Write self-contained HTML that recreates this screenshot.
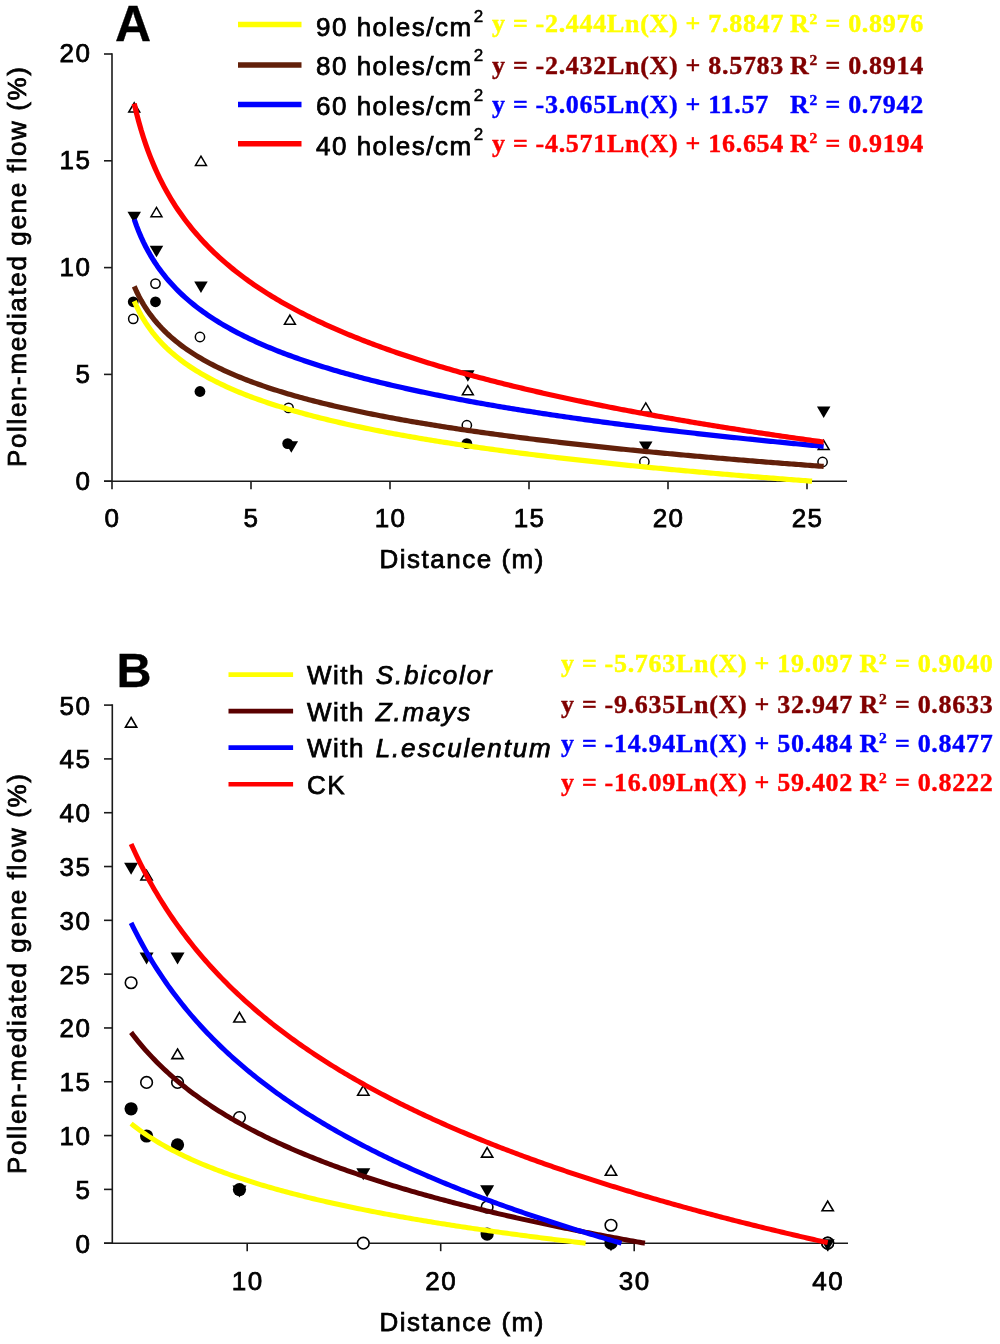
<!DOCTYPE html><html><head><meta charset="utf-8"><title>Pollen-mediated gene flow</title><style>html,body{margin:0;padding:0;background:#fff;} svg{display:block;will-change:transform} text{font-family:'Liberation Sans',sans-serif;font-size:26px;letter-spacing:1.5px;fill:#000;stroke:#000;stroke-width:0.75px} .e{font-family:'Liberation Serif',serif;font-weight:bold;font-size:26px;letter-spacing:0.7px;stroke-width:0.4px} .i{font-style:italic;letter-spacing:1.85px} .lab{font-weight:bold;font-size:50px;letter-spacing:0;stroke-width:0.3px} .sup{font-size:17px;letter-spacing:0;stroke-width:0.5px}</style></head><body>
<svg width="1000" height="1344" viewBox="0 0 1000 1344">
<rect width="1000" height="1344" fill="#fff"/>
<g stroke="#1a1a1a" stroke-width="1.6" fill="none">
<line x1="112.0" y1="53.2" x2="112.0" y2="482.0"/>
<line x1="104" y1="481.2" x2="847" y2="481.2"/>
<line x1="104" y1="481.20" x2="112.0" y2="481.20"/>
<line x1="104" y1="374.40" x2="112.0" y2="374.40"/>
<line x1="104" y1="267.60" x2="112.0" y2="267.60"/>
<line x1="104" y1="160.80" x2="112.0" y2="160.80"/>
<line x1="104" y1="54.00" x2="112.0" y2="54.00"/>
<line x1="112.00" y1="481.2" x2="112.00" y2="489.2"/>
<line x1="251.00" y1="481.2" x2="251.00" y2="489.2"/>
<line x1="390.00" y1="481.2" x2="390.00" y2="489.2"/>
<line x1="529.00" y1="481.2" x2="529.00" y2="489.2"/>
<line x1="668.00" y1="481.2" x2="668.00" y2="489.2"/>
<line x1="807.00" y1="481.2" x2="807.00" y2="489.2"/>
</g>
<text x="91.5" y="489.6" text-anchor="end">0</text>
<text x="91.5" y="382.8" text-anchor="end">5</text>
<text x="91.5" y="276.0" text-anchor="end">10</text>
<text x="91.5" y="169.2" text-anchor="end">15</text>
<text x="91.5" y="62.4" text-anchor="end">20</text>
<text x="112.6" y="526.5" text-anchor="middle">0</text>
<text x="251.6" y="526.5" text-anchor="middle">5</text>
<text x="390.6" y="526.5" text-anchor="middle">10</text>
<text x="529.6" y="526.5" text-anchor="middle">15</text>
<text x="668.6" y="526.5" text-anchor="middle">20</text>
<text x="807.6" y="526.5" text-anchor="middle">25</text>
<text x="379.5" y="568">Distance (m)</text>
<text transform="translate(26,467) rotate(-90)" style="letter-spacing:1.64px">Pollen-mediated gene flow (%)</text>
<text class="lab" x="115.0" y="41.4">A</text>
<circle cx="133.24" cy="301.78" r="5.4" fill="#000"/>
<circle cx="155.48" cy="301.78" r="5.4" fill="#000"/>
<circle cx="199.96" cy="391.49" r="5.4" fill="#000"/>
<circle cx="287.70" cy="443.61" r="5.4" fill="#000"/>
<circle cx="466.84" cy="443.61" r="5.4" fill="#000"/>
<circle cx="133.24" cy="318.86" r="4.65" fill="#fff" stroke="#000" stroke-width="1.5"/>
<circle cx="155.48" cy="283.62" r="4.65" fill="#fff" stroke="#000" stroke-width="1.5"/>
<circle cx="199.96" cy="337.02" r="4.65" fill="#fff" stroke="#000" stroke-width="1.5"/>
<circle cx="288.53" cy="407.94" r="4.65" fill="#fff" stroke="#000" stroke-width="1.5"/>
<circle cx="466.84" cy="425.24" r="4.65" fill="#fff" stroke="#000" stroke-width="1.5"/>
<circle cx="644.37" cy="461.76" r="4.65" fill="#fff" stroke="#000" stroke-width="1.5"/>
<circle cx="822.57" cy="461.98" r="4.65" fill="#fff" stroke="#000" stroke-width="1.5"/>
<path d="M127.49,211.65 L140.99,211.65 L134.24,223.15 Z" fill="#000"/>
<path d="M149.73,245.83 L163.23,245.83 L156.48,257.33 Z" fill="#000"/>
<path d="M194.21,281.50 L207.71,281.50 L200.96,293.00 Z" fill="#000"/>
<path d="M284.56,441.27 L298.06,441.27 L291.31,452.77 Z" fill="#000"/>
<path d="M461.09,370.36 L474.59,370.36 L467.84,381.86 Z" fill="#000"/>
<path d="M639.01,441.49 L652.51,441.49 L645.76,452.99 Z" fill="#000"/>
<path d="M816.93,406.46 L830.43,406.46 L823.68,417.96 Z" fill="#000"/>
<path d="M134.24,102.77 L139.72,112.02 L128.77,112.02 Z" fill="#fff" stroke="#000" stroke-width="1.5"/>
<path d="M156.48,207.44 L161.96,216.69 L151.01,216.69 Z" fill="#fff" stroke="#000" stroke-width="1.5"/>
<path d="M200.96,156.18 L206.44,165.43 L195.49,165.43 Z" fill="#fff" stroke="#000" stroke-width="1.5"/>
<path d="M289.92,315.09 L295.40,324.34 L284.44,324.34 Z" fill="#fff" stroke="#000" stroke-width="1.5"/>
<path d="M467.84,385.58 L473.32,394.83 L462.37,394.83 Z" fill="#fff" stroke="#000" stroke-width="1.5"/>
<path d="M645.76,402.88 L651.24,412.13 L640.28,412.13 Z" fill="#fff" stroke="#000" stroke-width="1.5"/>
<path d="M823.68,440.26 L829.16,449.51 L818.21,449.51 Z" fill="#fff" stroke="#000" stroke-width="1.5"/>
<path d="M134.24,301.13 L136.54,306.27 L138.84,310.94 L141.13,315.23 L143.43,319.19 L145.73,322.88 L148.03,326.32 L150.33,329.55 L152.63,332.59 L154.92,335.46 L157.22,338.18 L159.52,340.77 L161.82,343.23 L164.12,345.59 L166.41,347.84 L168.71,350.00 L171.01,352.08 L173.31,354.07 L175.61,355.99 L177.90,357.84 L180.20,359.63 L182.50,361.36 L184.80,363.04 L187.10,364.66 L189.40,366.23 L191.69,367.76 L193.99,369.25 L196.29,370.69 L198.59,372.09 L200.89,373.46 L203.18,374.79 L205.48,376.09 L207.78,377.36 L210.08,378.60 L212.38,379.81 L214.67,380.99 L216.97,382.14 L219.27,383.27 L221.57,384.38 L223.87,385.46 L226.17,386.53 L228.46,387.57 L230.76,388.59 L233.06,389.59 L235.36,390.57 L237.66,391.53 L239.95,392.48 L242.25,393.41 L244.55,394.32 L246.85,395.22 L249.15,396.10 L251.44,396.97 L253.74,397.82 L256.04,398.66 L258.34,399.49 L260.64,400.30 L262.94,401.10 L265.23,401.89 L267.53,402.67 L269.83,403.43 L272.13,404.19 L274.43,404.93 L276.72,405.67 L279.02,406.39 L281.32,407.10 L283.62,407.81 L285.92,408.50 L288.21,409.19 L290.51,409.86 L292.81,410.53 L295.11,411.19 L297.41,411.84 L299.71,412.48 L302.00,413.12 L304.30,413.75 L306.60,414.37 L308.90,414.98 L311.20,415.59 L313.49,416.18 L315.79,416.78 L318.09,417.36 L320.39,417.94 L322.69,418.51 L324.99,419.08 L327.28,419.64 L329.58,420.19 L331.88,420.74 L334.18,421.29 L336.48,421.82 L338.77,422.35 L341.07,422.88 L343.37,423.40 L345.67,423.92 L347.97,424.43 L350.26,424.93 L352.56,425.44 L354.86,425.93 L357.16,426.42 L359.46,426.91 L361.76,427.39 L364.05,427.87 L366.35,428.35 L368.65,428.82 L370.95,429.28 L373.25,429.74 L375.54,430.20 L377.84,430.65 L380.14,431.10 L382.44,431.55 L384.74,431.99 L387.03,432.43 L389.33,432.86 L391.63,433.29 L393.93,433.72 L396.23,434.14 L398.53,434.56 L400.82,434.98 L403.12,435.39 L405.42,435.80 L407.72,436.21 L410.02,436.62 L412.31,437.02 L414.61,437.42 L416.91,437.81 L419.21,438.20 L421.51,438.59 L423.80,438.98 L426.10,439.36 L428.40,439.74 L430.70,440.12 L433.00,440.49 L435.30,440.87 L437.59,441.24 L439.89,441.60 L442.19,441.97 L444.49,442.33 L446.79,442.69 L449.08,443.05 L451.38,443.40 L453.68,443.75 L455.98,444.10 L458.28,444.45 L460.57,444.80 L462.87,445.14 L465.17,445.48 L467.47,445.82 L469.77,446.16 L472.07,446.49 L474.36,446.82 L476.66,447.15 L478.96,447.48 L481.26,447.81 L483.56,448.13 L485.85,448.45 L488.15,448.77 L490.45,449.09 L492.75,449.41 L495.05,449.72 L497.35,450.03 L499.64,450.34 L501.94,450.65 L504.24,450.96 L506.54,451.26 L508.84,451.57 L511.13,451.87 L513.43,452.17 L515.73,452.47 L518.03,452.76 L520.33,453.06 L522.62,453.35 L524.92,453.64 L527.22,453.93 L529.52,454.22 L531.82,454.50 L534.12,454.79 L536.41,455.07 L538.71,455.36 L541.01,455.64 L543.31,455.91 L545.61,456.19 L547.90,456.47 L550.20,456.74 L552.50,457.02 L554.80,457.29 L557.10,457.56 L559.39,457.83 L561.69,458.09 L563.99,458.36 L566.29,458.62 L568.59,458.89 L570.89,459.15 L573.18,459.41 L575.48,459.67 L577.78,459.93 L580.08,460.19 L582.38,460.44 L584.67,460.70 L586.97,460.95 L589.27,461.20 L591.57,461.45 L593.87,461.70 L596.16,461.95 L598.46,462.20 L600.76,462.44 L603.06,462.69 L605.36,462.93 L607.66,463.17 L609.95,463.42 L612.25,463.66 L614.55,463.90 L616.85,464.13 L619.15,464.37 L621.44,464.61 L623.74,464.84 L626.04,465.08 L628.34,465.31 L630.64,465.54 L632.93,465.77 L635.23,466.00 L637.53,466.23 L639.83,466.46 L642.13,466.68 L644.43,466.91 L646.72,467.13 L649.02,467.36 L651.32,467.58 L653.62,467.80 L655.92,468.02 L658.21,468.24 L660.51,468.46 L662.81,468.68 L665.11,468.90 L667.41,469.12 L669.71,469.33 L672.00,469.55 L674.30,469.76 L676.60,469.97 L678.90,470.18 L681.20,470.40 L683.49,470.61 L685.79,470.82 L688.09,471.02 L690.39,471.23 L692.69,471.44 L694.98,471.65 L697.28,471.85 L699.58,472.06 L701.88,472.26 L704.18,472.46 L706.48,472.66 L708.77,472.87 L711.07,473.07 L713.37,473.27 L715.67,473.47 L717.97,473.66 L720.26,473.86 L722.56,474.06 L724.86,474.25 L727.16,474.45 L729.46,474.64 L731.75,474.84 L734.05,475.03 L736.35,475.22 L738.65,475.42 L740.95,475.61 L743.25,475.80 L745.54,475.99 L747.84,476.18 L750.14,476.36 L752.44,476.55 L754.74,476.74 L757.03,476.93 L759.33,477.11 L761.63,477.30 L763.93,477.48 L766.23,477.66 L768.52,477.85 L770.82,478.03 L773.12,478.21 L775.42,478.39 L777.72,478.57 L780.02,478.75 L782.31,478.93 L784.61,479.11 L786.91,479.29 L789.21,479.47 L791.51,479.64 L793.80,479.82 L796.10,480.00 L798.40,480.17 L800.70,480.35 L803.00,480.52 L805.29,480.69 L807.59,480.87 L809.89,481.04 L812.07,481.20" fill="none" stroke="#ffff00" stroke-width="5.2" stroke-linejoin="round"/>
<path d="M134.24,286.38 L136.54,291.48 L138.84,296.13 L141.13,300.40 L143.43,304.35 L145.73,308.01 L148.03,311.44 L150.33,314.65 L152.63,317.67 L154.92,320.53 L157.22,323.24 L159.52,325.82 L161.82,328.27 L164.12,330.61 L166.41,332.85 L168.71,335.00 L171.01,337.07 L173.31,339.05 L175.61,340.96 L177.90,342.81 L180.20,344.59 L182.50,346.31 L184.80,347.98 L187.10,349.59 L189.40,351.16 L191.69,352.68 L193.99,354.15 L196.29,355.59 L198.59,356.99 L200.89,358.35 L203.18,359.67 L205.48,360.97 L207.78,362.23 L210.08,363.46 L212.38,364.66 L214.67,365.84 L216.97,366.99 L219.27,368.11 L221.57,369.21 L223.87,370.29 L226.17,371.35 L228.46,372.38 L230.76,373.40 L233.06,374.40 L235.36,375.37 L237.66,376.33 L239.95,377.27 L242.25,378.20 L244.55,379.11 L246.85,380.00 L249.15,380.88 L251.44,381.74 L253.74,382.59 L256.04,383.42 L258.34,384.25 L260.64,385.06 L262.94,385.85 L265.23,386.64 L267.53,387.41 L269.83,388.17 L272.13,388.92 L274.43,389.66 L276.72,390.39 L279.02,391.11 L281.32,391.82 L283.62,392.52 L285.92,393.22 L288.21,393.90 L290.51,394.57 L292.81,395.23 L295.11,395.89 L297.41,396.54 L299.71,397.18 L302.00,397.81 L304.30,398.44 L306.60,399.05 L308.90,399.66 L311.20,400.27 L313.49,400.86 L315.79,401.45 L318.09,402.03 L320.39,402.61 L322.69,403.18 L324.99,403.74 L327.28,404.30 L329.58,404.85 L331.88,405.40 L334.18,405.94 L336.48,406.47 L338.77,407.00 L341.07,407.52 L343.37,408.04 L345.67,408.56 L347.97,409.07 L350.26,409.57 L352.56,410.07 L354.86,410.56 L357.16,411.05 L359.46,411.54 L361.76,412.02 L364.05,412.49 L366.35,412.96 L368.65,413.43 L370.95,413.89 L373.25,414.35 L375.54,414.81 L377.84,415.26 L380.14,415.71 L382.44,416.15 L384.74,416.59 L387.03,417.02 L389.33,417.46 L391.63,417.88 L393.93,418.31 L396.23,418.73 L398.53,419.15 L400.82,419.57 L403.12,419.98 L405.42,420.39 L407.72,420.79 L410.02,421.19 L412.31,421.59 L414.61,421.99 L416.91,422.38 L419.21,422.77 L421.51,423.16 L423.80,423.54 L426.10,423.92 L428.40,424.30 L430.70,424.68 L433.00,425.05 L435.30,425.42 L437.59,425.79 L439.89,426.16 L442.19,426.52 L444.49,426.88 L446.79,427.24 L449.08,427.59 L451.38,427.94 L453.68,428.30 L455.98,428.64 L458.28,428.99 L460.57,429.33 L462.87,429.67 L465.17,430.01 L467.47,430.35 L469.77,430.69 L472.07,431.02 L474.36,431.35 L476.66,431.68 L478.96,432.00 L481.26,432.33 L483.56,432.65 L485.85,432.97 L488.15,433.29 L490.45,433.61 L492.75,433.92 L495.05,434.23 L497.35,434.54 L499.64,434.85 L501.94,435.16 L504.24,435.46 L506.54,435.77 L508.84,436.07 L511.13,436.37 L513.43,436.67 L515.73,436.96 L518.03,437.26 L520.33,437.55 L522.62,437.84 L524.92,438.13 L527.22,438.42 L529.52,438.71 L531.82,438.99 L534.12,439.28 L536.41,439.56 L538.71,439.84 L541.01,440.12 L543.31,440.40 L545.61,440.67 L547.90,440.95 L550.20,441.22 L552.50,441.49 L554.80,441.76 L557.10,442.03 L559.39,442.30 L561.69,442.56 L563.99,442.83 L566.29,443.09 L568.59,443.36 L570.89,443.62 L573.18,443.88 L575.48,444.13 L577.78,444.39 L580.08,444.65 L582.38,444.90 L584.67,445.15 L586.97,445.41 L589.27,445.66 L591.57,445.91 L593.87,446.15 L596.16,446.40 L598.46,446.65 L600.76,446.89 L603.06,447.14 L605.36,447.38 L607.66,447.62 L609.95,447.86 L612.25,448.10 L614.55,448.34 L616.85,448.57 L619.15,448.81 L621.44,449.05 L623.74,449.28 L626.04,449.51 L628.34,449.74 L630.64,449.97 L632.93,450.20 L635.23,450.43 L637.53,450.66 L639.83,450.89 L642.13,451.11 L644.43,451.34 L646.72,451.56 L649.02,451.78 L651.32,452.01 L653.62,452.23 L655.92,452.45 L658.21,452.67 L660.51,452.88 L662.81,453.10 L665.11,453.32 L667.41,453.53 L669.71,453.75 L672.00,453.96 L674.30,454.17 L676.60,454.39 L678.90,454.60 L681.20,454.81 L683.49,455.02 L685.79,455.22 L688.09,455.43 L690.39,455.64 L692.69,455.85 L694.98,456.05 L697.28,456.25 L699.58,456.46 L701.88,456.66 L704.18,456.86 L706.48,457.06 L708.77,457.26 L711.07,457.46 L713.37,457.66 L715.67,457.86 L717.97,458.06 L720.26,458.26 L722.56,458.45 L724.86,458.65 L727.16,458.84 L729.46,459.03 L731.75,459.23 L734.05,459.42 L736.35,459.61 L738.65,459.80 L740.95,459.99 L743.25,460.18 L745.54,460.37 L747.84,460.56 L750.14,460.75 L752.44,460.93 L754.74,461.12 L757.03,461.30 L759.33,461.49 L761.63,461.67 L763.93,461.86 L766.23,462.04 L768.52,462.22 L770.82,462.40 L773.12,462.58 L775.42,462.76 L777.72,462.94 L780.02,463.12 L782.31,463.30 L784.61,463.48 L786.91,463.66 L789.21,463.83 L791.51,464.01 L793.80,464.18 L796.10,464.36 L798.40,464.53 L800.70,464.71 L803.00,464.88 L805.29,465.05 L807.59,465.22 L809.89,465.40 L812.19,465.57 L814.49,465.74 L816.79,465.91 L819.08,466.08 L821.38,466.24 L823.68,466.41" fill="none" stroke="#62200a" stroke-width="5.2" stroke-linejoin="round"/>
<path d="M134.24,219.46 L136.54,225.89 L138.84,231.75 L141.13,237.13 L143.43,242.10 L145.73,246.72 L148.03,251.04 L150.33,255.09 L152.63,258.90 L154.92,262.50 L157.22,265.92 L159.52,269.16 L161.82,272.25 L164.12,275.21 L166.41,278.03 L168.71,280.74 L171.01,283.34 L173.31,285.84 L175.61,288.25 L177.90,290.58 L180.20,292.82 L182.50,294.99 L184.80,297.09 L187.10,299.12 L189.40,301.10 L191.69,303.01 L193.99,304.87 L196.29,306.68 L198.59,308.44 L200.89,310.16 L203.18,311.83 L205.48,313.46 L207.78,315.05 L210.08,316.60 L212.38,318.12 L214.67,319.60 L216.97,321.05 L219.27,322.47 L221.57,323.86 L223.87,325.21 L226.17,326.55 L228.46,327.85 L230.76,329.13 L233.06,330.39 L235.36,331.62 L237.66,332.82 L239.95,334.01 L242.25,335.18 L244.55,336.32 L246.85,337.45 L249.15,338.55 L251.44,339.64 L253.74,340.71 L256.04,341.76 L258.34,342.80 L260.64,343.82 L262.94,344.83 L265.23,345.81 L267.53,346.79 L269.83,347.75 L272.13,348.70 L274.43,349.63 L276.72,350.55 L279.02,351.46 L281.32,352.35 L283.62,353.23 L285.92,354.10 L288.21,354.96 L290.51,355.81 L292.81,356.65 L295.11,357.48 L297.41,358.29 L299.71,359.10 L302.00,359.90 L304.30,360.68 L306.60,361.46 L308.90,362.23 L311.20,362.99 L313.49,363.74 L315.79,364.48 L318.09,365.22 L320.39,365.94 L322.69,366.66 L324.99,367.37 L327.28,368.07 L329.58,368.77 L331.88,369.46 L334.18,370.14 L336.48,370.81 L338.77,371.48 L341.07,372.14 L343.37,372.79 L345.67,373.44 L347.97,374.08 L350.26,374.71 L352.56,375.34 L354.86,375.96 L357.16,376.58 L359.46,377.19 L361.76,377.80 L364.05,378.40 L366.35,378.99 L368.65,379.58 L370.95,380.16 L373.25,380.74 L375.54,381.32 L377.84,381.88 L380.14,382.45 L382.44,383.01 L384.74,383.56 L387.03,384.11 L389.33,384.65 L391.63,385.19 L393.93,385.73 L396.23,386.26 L398.53,386.79 L400.82,387.31 L403.12,387.83 L405.42,388.35 L407.72,388.86 L410.02,389.36 L412.31,389.87 L414.61,390.37 L416.91,390.86 L419.21,391.35 L421.51,391.84 L423.80,392.32 L426.10,392.81 L428.40,393.28 L430.70,393.76 L433.00,394.23 L435.30,394.69 L437.59,395.16 L439.89,395.62 L442.19,396.07 L444.49,396.53 L446.79,396.98 L449.08,397.43 L451.38,397.87 L453.68,398.31 L455.98,398.75 L458.28,399.19 L460.57,399.62 L462.87,400.05 L465.17,400.48 L467.47,400.90 L469.77,401.33 L472.07,401.75 L474.36,402.16 L476.66,402.58 L478.96,402.99 L481.26,403.40 L483.56,403.80 L485.85,404.21 L488.15,404.61 L490.45,405.01 L492.75,405.40 L495.05,405.80 L497.35,406.19 L499.64,406.58 L501.94,406.96 L504.24,407.35 L506.54,407.73 L508.84,408.11 L511.13,408.49 L513.43,408.87 L515.73,409.24 L518.03,409.61 L520.33,409.98 L522.62,410.35 L524.92,410.71 L527.22,411.08 L529.52,411.44 L531.82,411.80 L534.12,412.15 L536.41,412.51 L538.71,412.86 L541.01,413.22 L543.31,413.57 L545.61,413.91 L547.90,414.26 L550.20,414.60 L552.50,414.95 L554.80,415.29 L557.10,415.63 L559.39,415.96 L561.69,416.30 L563.99,416.63 L566.29,416.96 L568.59,417.29 L570.89,417.62 L573.18,417.95 L575.48,418.28 L577.78,418.60 L580.08,418.92 L582.38,419.24 L584.67,419.56 L586.97,419.88 L589.27,420.19 L591.57,420.51 L593.87,420.82 L596.16,421.13 L598.46,421.44 L600.76,421.75 L603.06,422.06 L605.36,422.36 L607.66,422.67 L609.95,422.97 L612.25,423.27 L614.55,423.57 L616.85,423.87 L619.15,424.17 L621.44,424.47 L623.74,424.76 L626.04,425.05 L628.34,425.35 L630.64,425.64 L632.93,425.93 L635.23,426.21 L637.53,426.50 L639.83,426.79 L642.13,427.07 L644.43,427.35 L646.72,427.64 L649.02,427.92 L651.32,428.20 L653.62,428.47 L655.92,428.75 L658.21,429.03 L660.51,429.30 L662.81,429.58 L665.11,429.85 L667.41,430.12 L669.71,430.39 L672.00,430.66 L674.30,430.93 L676.60,431.20 L678.90,431.46 L681.20,431.73 L683.49,431.99 L685.79,432.25 L688.09,432.51 L690.39,432.78 L692.69,433.03 L694.98,433.29 L697.28,433.55 L699.58,433.81 L701.88,434.06 L704.18,434.32 L706.48,434.57 L708.77,434.82 L711.07,435.08 L713.37,435.33 L715.67,435.58 L717.97,435.82 L720.26,436.07 L722.56,436.32 L724.86,436.57 L727.16,436.81 L729.46,437.05 L731.75,437.30 L734.05,437.54 L736.35,437.78 L738.65,438.02 L740.95,438.26 L743.25,438.50 L745.54,438.74 L747.84,438.98 L750.14,439.21 L752.44,439.45 L754.74,439.68 L757.03,439.91 L759.33,440.15 L761.63,440.38 L763.93,440.61 L766.23,440.84 L768.52,441.07 L770.82,441.30 L773.12,441.53 L775.42,441.75 L777.72,441.98 L780.02,442.21 L782.31,442.43 L784.61,442.66 L786.91,442.88 L789.21,443.10 L791.51,443.32 L793.80,443.54 L796.10,443.76 L798.40,443.98 L800.70,444.20 L803.00,444.42 L805.29,444.64 L807.59,444.86 L809.89,445.07 L812.19,445.29 L814.49,445.50 L816.79,445.71 L819.08,445.93 L821.38,446.14 L823.68,446.35" fill="none" stroke="#0000ff" stroke-width="5.2" stroke-linejoin="round"/>
<path d="M134.24,103.68 L136.54,113.28 L138.84,122.03 L141.13,130.05 L143.43,137.46 L145.73,144.35 L148.03,150.79 L150.33,156.82 L152.63,162.51 L154.92,167.88 L157.22,172.97 L159.52,177.81 L161.82,182.43 L164.12,186.83 L166.41,191.04 L168.71,195.08 L171.01,198.96 L173.31,202.69 L175.61,206.28 L177.90,209.75 L180.20,213.09 L182.50,216.33 L184.80,219.46 L187.10,222.50 L189.40,225.44 L191.69,228.30 L193.99,231.07 L196.29,233.77 L198.59,236.40 L200.89,238.96 L203.18,241.45 L205.48,243.88 L207.78,246.25 L210.08,248.56 L212.38,250.83 L214.67,253.04 L216.97,255.20 L219.27,257.31 L221.57,259.38 L223.87,261.41 L226.17,263.39 L228.46,265.34 L230.76,267.25 L233.06,269.12 L235.36,270.95 L237.66,272.76 L239.95,274.53 L242.25,276.26 L244.55,277.97 L246.85,279.65 L249.15,281.30 L251.44,282.92 L253.74,284.52 L256.04,286.09 L258.34,287.63 L260.64,289.16 L262.94,290.65 L265.23,292.13 L267.53,293.58 L269.83,295.01 L272.13,296.43 L274.43,297.82 L276.72,299.19 L279.02,300.54 L281.32,301.88 L283.62,303.19 L285.92,304.49 L288.21,305.77 L290.51,307.04 L292.81,308.29 L295.11,309.52 L297.41,310.74 L299.71,311.94 L302.00,313.13 L304.30,314.30 L306.60,315.46 L308.90,316.61 L311.20,317.74 L313.49,318.86 L315.79,319.97 L318.09,321.06 L320.39,322.15 L322.69,323.22 L324.99,324.28 L327.28,325.32 L329.58,326.36 L331.88,327.39 L334.18,328.40 L336.48,329.41 L338.77,330.40 L341.07,331.39 L343.37,332.36 L345.67,333.33 L347.97,334.28 L350.26,335.23 L352.56,336.16 L354.86,337.09 L357.16,338.01 L359.46,338.92 L361.76,339.83 L364.05,340.72 L366.35,341.61 L368.65,342.48 L370.95,343.36 L373.25,344.22 L375.54,345.07 L377.84,345.92 L380.14,346.76 L382.44,347.59 L384.74,348.42 L387.03,349.24 L389.33,350.05 L391.63,350.86 L393.93,351.66 L396.23,352.45 L398.53,353.24 L400.82,354.02 L403.12,354.79 L405.42,355.56 L407.72,356.32 L410.02,357.08 L412.31,357.83 L414.61,358.57 L416.91,359.31 L419.21,360.04 L421.51,360.77 L423.80,361.49 L426.10,362.21 L428.40,362.92 L430.70,363.63 L433.00,364.33 L435.30,365.02 L437.59,365.72 L439.89,366.40 L442.19,367.09 L444.49,367.76 L446.79,368.43 L449.08,369.10 L451.38,369.77 L453.68,370.43 L455.98,371.08 L458.28,371.73 L460.57,372.38 L462.87,373.02 L465.17,373.65 L467.47,374.29 L469.77,374.92 L472.07,375.54 L474.36,376.16 L476.66,376.78 L478.96,377.39 L481.26,378.00 L483.56,378.61 L485.85,379.21 L488.15,379.81 L490.45,380.40 L492.75,381.00 L495.05,381.58 L497.35,382.17 L499.64,382.75 L501.94,383.32 L504.24,383.90 L506.54,384.47 L508.84,385.04 L511.13,385.60 L513.43,386.16 L515.73,386.72 L518.03,387.27 L520.33,387.82 L522.62,388.37 L524.92,388.92 L527.22,389.46 L529.52,390.00 L531.82,390.53 L534.12,391.07 L536.41,391.60 L538.71,392.12 L541.01,392.65 L543.31,393.17 L545.61,393.69 L547.90,394.20 L550.20,394.72 L552.50,395.23 L554.80,395.74 L557.10,396.24 L559.39,396.74 L561.69,397.24 L563.99,397.74 L566.29,398.24 L568.59,398.73 L570.89,399.22 L573.18,399.71 L575.48,400.19 L577.78,400.68 L580.08,401.16 L582.38,401.64 L584.67,402.11 L586.97,402.58 L589.27,403.06 L591.57,403.52 L593.87,403.99 L596.16,404.46 L598.46,404.92 L600.76,405.38 L603.06,405.84 L605.36,406.29 L607.66,406.75 L609.95,407.20 L612.25,407.65 L614.55,408.10 L616.85,408.54 L619.15,408.98 L621.44,409.43 L623.74,409.86 L626.04,410.30 L628.34,410.74 L630.64,411.17 L632.93,411.60 L635.23,412.03 L637.53,412.46 L639.83,412.89 L642.13,413.31 L644.43,413.73 L646.72,414.15 L649.02,414.57 L651.32,414.99 L653.62,415.40 L655.92,415.82 L658.21,416.23 L660.51,416.64 L662.81,417.05 L665.11,417.45 L667.41,417.86 L669.71,418.26 L672.00,418.66 L674.30,419.06 L676.60,419.46 L678.90,419.86 L681.20,420.25 L683.49,420.65 L685.79,421.04 L688.09,421.43 L690.39,421.82 L692.69,422.21 L694.98,422.59 L697.28,422.97 L699.58,423.36 L701.88,423.74 L704.18,424.12 L706.48,424.50 L708.77,424.87 L711.07,425.25 L713.37,425.62 L715.67,425.99 L717.97,426.37 L720.26,426.74 L722.56,427.10 L724.86,427.47 L727.16,427.84 L729.46,428.20 L731.75,428.56 L734.05,428.92 L736.35,429.28 L738.65,429.64 L740.95,430.00 L743.25,430.36 L745.54,430.71 L747.84,431.06 L750.14,431.42 L752.44,431.77 L754.74,432.12 L757.03,432.47 L759.33,432.81 L761.63,433.16 L763.93,433.50 L766.23,433.85 L768.52,434.19 L770.82,434.53 L773.12,434.87 L775.42,435.21 L777.72,435.55 L780.02,435.88 L782.31,436.22 L784.61,436.55 L786.91,436.89 L789.21,437.22 L791.51,437.55 L793.80,437.88 L796.10,438.21 L798.40,438.53 L800.70,438.86 L803.00,439.19 L805.29,439.51 L807.59,439.83 L809.89,440.16 L812.19,440.48 L814.49,440.80 L816.79,441.12 L819.08,441.43 L821.38,441.75 L823.68,442.07" fill="none" stroke="#ff0000" stroke-width="5.2" stroke-linejoin="round"/>
<line x1="238" y1="24.5" x2="301.5" y2="24.5" stroke="#ffff00" stroke-width="5.5"/>
<text x="316" y="35.8">90 holes/cm</text>
<text class="sup" x="473.8" y="21.6">2</text>
<text class="e" x="492" y="32.4" style="fill:#ffff00;stroke:#ffff00">y = -2.444Ln(X) + 7.8847</text>
<text class="e" x="790" y="32.4" style="fill:#ffff00;stroke:#ffff00">R<tspan dy="-8.4" style="font-size:15.5px;letter-spacing:0">2</tspan><tspan dy="8.4" dx="1.0"> = 0.8976</tspan></text>
<line x1="238" y1="65" x2="301.5" y2="65" stroke="#62200a" stroke-width="5.5"/>
<text x="316" y="75.4">80 holes/cm</text>
<text class="sup" x="473.8" y="61.2">2</text>
<text class="e" x="492" y="73.8" style="fill:#800000;stroke:#800000">y = -2.432Ln(X) + 8.5783</text>
<text class="e" x="790" y="73.8" style="fill:#800000;stroke:#800000">R<tspan dy="-8.4" style="font-size:15.5px;letter-spacing:0">2</tspan><tspan dy="8.4" dx="1.0"> = 0.8914</tspan></text>
<line x1="238" y1="104.4" x2="301.5" y2="104.4" stroke="#0000ff" stroke-width="5.5"/>
<text x="316" y="115.1">60 holes/cm</text>
<text class="sup" x="473.8" y="100.9">2</text>
<text class="e" x="492" y="113" style="fill:#0000ff;stroke:#0000ff">y = -3.065Ln(X) + 11.57</text>
<text class="e" x="790" y="113" style="fill:#0000ff;stroke:#0000ff">R<tspan dy="-8.4" style="font-size:15.5px;letter-spacing:0">2</tspan><tspan dy="8.4" dx="1.0"> = 0.7942</tspan></text>
<line x1="238" y1="143.8" x2="301.5" y2="143.8" stroke="#ff0000" stroke-width="5.5"/>
<text x="316" y="154.6">40 holes/cm</text>
<text class="sup" x="473.8" y="140.4">2</text>
<text class="e" x="492" y="151.7" style="fill:#ff0000;stroke:#ff0000">y = -4.571Ln(X) + 16.654</text>
<text class="e" x="790" y="151.7" style="fill:#ff0000;stroke:#ff0000">R<tspan dy="-8.4" style="font-size:15.5px;letter-spacing:0">2</tspan><tspan dy="8.4" dx="1.0"> = 0.9194</tspan></text>
<g stroke="#1a1a1a" stroke-width="1.6" fill="none">
<line x1="112.3" y1="704.3" x2="112.3" y2="1244.0"/>
<line x1="104" y1="1243.2" x2="848" y2="1243.2"/>
<line x1="104" y1="1243.20" x2="112.3" y2="1243.20"/>
<line x1="104" y1="1189.39" x2="112.3" y2="1189.39"/>
<line x1="104" y1="1135.58" x2="112.3" y2="1135.58"/>
<line x1="104" y1="1081.77" x2="112.3" y2="1081.77"/>
<line x1="104" y1="1027.96" x2="112.3" y2="1027.96"/>
<line x1="104" y1="974.15" x2="112.3" y2="974.15"/>
<line x1="104" y1="920.34" x2="112.3" y2="920.34"/>
<line x1="104" y1="866.53" x2="112.3" y2="866.53"/>
<line x1="104" y1="812.72" x2="112.3" y2="812.72"/>
<line x1="104" y1="758.91" x2="112.3" y2="758.91"/>
<line x1="104" y1="705.10" x2="112.3" y2="705.10"/>
<line x1="247.20" y1="1243.2" x2="247.20" y2="1251.2"/>
<line x1="440.70" y1="1243.2" x2="440.70" y2="1251.2"/>
<line x1="634.20" y1="1243.2" x2="634.20" y2="1251.2"/>
<line x1="827.70" y1="1243.2" x2="827.70" y2="1251.2"/>
</g>
<text x="91.5" y="1252.6" text-anchor="end">0</text>
<text x="91.5" y="1198.8" text-anchor="end">5</text>
<text x="91.5" y="1145.0" text-anchor="end">10</text>
<text x="91.5" y="1091.2" text-anchor="end">15</text>
<text x="91.5" y="1037.4" text-anchor="end">20</text>
<text x="91.5" y="983.6" text-anchor="end">25</text>
<text x="91.5" y="929.7" text-anchor="end">30</text>
<text x="91.5" y="875.9" text-anchor="end">35</text>
<text x="91.5" y="822.1" text-anchor="end">40</text>
<text x="91.5" y="768.3" text-anchor="end">45</text>
<text x="91.5" y="714.5" text-anchor="end">50</text>
<text x="247.8" y="1289.5" text-anchor="middle">10</text>
<text x="441.3" y="1289.5" text-anchor="middle">20</text>
<text x="634.8" y="1289.5" text-anchor="middle">30</text>
<text x="828.3" y="1289.5" text-anchor="middle">40</text>
<text x="379.5" y="1331">Distance (m)</text>
<text transform="translate(26,1174) rotate(-90)" style="letter-spacing:1.64px">Pollen-mediated gene flow (%)</text>
<text class="lab" x="116.5" y="687" style="font-size:48.5px">B</text>
<circle cx="131.10" cy="1108.78" r="6.6" fill="#000"/>
<circle cx="146.58" cy="1136.01" r="6.6" fill="#000"/>
<circle cx="177.54" cy="1144.84" r="6.6" fill="#000"/>
<circle cx="239.46" cy="1189.61" r="6.6" fill="#000"/>
<circle cx="487.14" cy="1234.05" r="6.6" fill="#000"/>
<circle cx="610.98" cy="1243.20" r="6.6" fill="#000"/>
<circle cx="827.70" cy="1243.20" r="6.6" fill="#000"/>
<circle cx="131.10" cy="982.76" r="5.80" fill="#fff" stroke="#000" stroke-width="1.6"/>
<circle cx="146.58" cy="1082.42" r="5.80" fill="#fff" stroke="#000" stroke-width="1.6"/>
<circle cx="177.54" cy="1082.42" r="5.80" fill="#fff" stroke="#000" stroke-width="1.6"/>
<circle cx="239.46" cy="1117.61" r="5.80" fill="#fff" stroke="#000" stroke-width="1.6"/>
<circle cx="363.30" cy="1243.20" r="5.80" fill="#fff" stroke="#000" stroke-width="1.6"/>
<circle cx="487.14" cy="1207.04" r="5.80" fill="#fff" stroke="#000" stroke-width="1.6"/>
<circle cx="610.98" cy="1225.23" r="5.80" fill="#fff" stroke="#000" stroke-width="1.6"/>
<circle cx="827.70" cy="1243.20" r="5.80" fill="#fff" stroke="#000" stroke-width="1.6"/>
<path d="M124.10,862.68 L138.10,862.68 L131.10,874.68 Z" fill="#000"/>
<path d="M139.58,952.44 L153.58,952.44 L146.58,964.44 Z" fill="#000"/>
<path d="M170.54,952.44 L184.54,952.44 L177.54,964.44 Z" fill="#000"/>
<path d="M232.46,1185.54 L246.46,1185.54 L239.46,1197.54 Z" fill="#000"/>
<path d="M356.30,1168.32 L370.30,1168.32 L363.30,1180.32 Z" fill="#000"/>
<path d="M480.14,1185.22 L494.14,1185.22 L487.14,1197.22 Z" fill="#000"/>
<path d="M603.98,1239.24 L617.98,1239.24 L610.98,1251.24 Z" fill="#000"/>
<path d="M820.70,1239.24 L834.70,1239.24 L827.70,1251.24 Z" fill="#000"/>
<path d="M131.10,717.52 L136.74,727.12 L125.46,727.12 Z" fill="#fff" stroke="#000" stroke-width="1.6"/>
<path d="M146.58,870.34 L152.22,879.94 L140.94,879.94 Z" fill="#fff" stroke="#000" stroke-width="1.6"/>
<path d="M177.54,1048.99 L183.18,1058.59 L171.90,1058.59 Z" fill="#fff" stroke="#000" stroke-width="1.6"/>
<path d="M239.46,1012.40 L245.10,1022.00 L233.82,1022.00 Z" fill="#fff" stroke="#000" stroke-width="1.6"/>
<path d="M363.30,1085.58 L368.94,1095.18 L357.66,1095.18 Z" fill="#fff" stroke="#000" stroke-width="1.6"/>
<path d="M487.14,1147.57 L492.78,1157.17 L481.50,1157.17 Z" fill="#fff" stroke="#000" stroke-width="1.6"/>
<path d="M610.98,1165.65 L616.62,1175.25 L605.34,1175.25 Z" fill="#fff" stroke="#000" stroke-width="1.6"/>
<path d="M827.70,1201.16 L833.34,1210.76 L822.06,1210.76 Z" fill="#fff" stroke="#000" stroke-width="1.6"/>
<path d="M131.10,1123.66 L133.42,1125.49 L135.74,1127.27 L138.07,1129.00 L140.39,1130.69 L142.71,1132.33 L145.03,1133.92 L147.35,1135.48 L149.68,1137.00 L152.00,1138.48 L154.32,1139.93 L156.64,1141.35 L158.96,1142.73 L161.29,1144.08 L163.61,1145.41 L165.93,1146.70 L168.25,1147.97 L170.57,1149.22 L172.90,1150.44 L175.22,1151.63 L177.54,1152.81 L179.86,1153.96 L182.18,1155.09 L184.51,1156.20 L186.83,1157.29 L189.15,1158.37 L191.47,1159.42 L193.79,1160.46 L196.12,1161.48 L198.44,1162.48 L200.76,1163.47 L203.08,1164.44 L205.40,1165.39 L207.73,1166.34 L210.05,1167.27 L212.37,1168.18 L214.69,1169.08 L217.01,1169.97 L219.34,1170.84 L221.66,1171.71 L223.98,1172.56 L226.30,1173.40 L228.62,1174.23 L230.95,1175.05 L233.27,1175.85 L235.59,1176.65 L237.91,1177.44 L240.23,1178.21 L242.56,1178.98 L244.88,1179.74 L247.20,1180.49 L249.52,1181.23 L251.84,1181.96 L254.17,1182.68 L256.49,1183.40 L258.81,1184.10 L261.13,1184.80 L263.45,1185.49 L265.78,1186.17 L268.10,1186.85 L270.42,1187.52 L272.74,1188.18 L275.06,1188.83 L277.39,1189.48 L279.71,1190.12 L282.03,1190.75 L284.35,1191.38 L286.67,1192.00 L289.00,1192.62 L291.32,1193.23 L293.64,1193.83 L295.96,1194.43 L298.28,1195.02 L300.61,1195.60 L302.93,1196.18 L305.25,1196.76 L307.57,1197.33 L309.89,1197.89 L312.22,1198.45 L314.54,1199.01 L316.86,1199.56 L319.18,1200.10 L321.50,1200.64 L323.83,1201.18 L326.15,1201.71 L328.47,1202.24 L330.79,1202.76 L333.11,1203.28 L335.44,1203.79 L337.76,1204.30 L340.08,1204.80 L342.40,1205.30 L344.72,1205.80 L347.05,1206.29 L349.37,1206.78 L351.69,1207.27 L354.01,1207.75 L356.33,1208.23 L358.66,1208.70 L360.98,1209.17 L363.30,1209.64 L365.62,1210.10 L367.94,1210.56 L370.27,1211.02 L372.59,1211.47 L374.91,1211.92 L377.23,1212.37 L379.55,1212.81 L381.88,1213.25 L384.20,1213.69 L386.52,1214.12 L388.84,1214.55 L391.16,1214.98 L393.49,1215.41 L395.81,1215.83 L398.13,1216.25 L400.45,1216.67 L402.77,1217.08 L405.10,1217.49 L407.42,1217.90 L409.74,1218.31 L412.06,1218.71 L414.38,1219.11 L416.71,1219.51 L419.03,1219.90 L421.35,1220.30 L423.67,1220.69 L425.99,1221.07 L428.32,1221.46 L430.64,1221.84 L432.96,1222.22 L435.28,1222.60 L437.60,1222.98 L439.93,1223.35 L442.25,1223.73 L444.57,1224.09 L446.89,1224.46 L449.21,1224.83 L451.54,1225.19 L453.86,1225.55 L456.18,1225.91 L458.50,1226.27 L460.82,1226.62 L463.15,1226.97 L465.47,1227.33 L467.79,1227.67 L470.11,1228.02 L472.43,1228.37 L474.76,1228.71 L477.08,1229.05 L479.40,1229.39 L481.72,1229.73 L484.04,1230.06 L486.37,1230.40 L488.69,1230.73 L491.01,1231.06 L493.33,1231.39 L495.65,1231.71 L497.98,1232.04 L500.30,1232.36 L502.62,1232.68 L504.94,1233.00 L507.26,1233.32 L509.59,1233.64 L511.91,1233.95 L514.23,1234.27 L516.55,1234.58 L518.87,1234.89 L521.20,1235.20 L523.52,1235.50 L525.84,1235.81 L528.16,1236.11 L530.48,1236.42 L532.81,1236.72 L535.13,1237.02 L537.45,1237.32 L539.77,1237.61 L542.09,1237.91 L544.42,1238.20 L546.74,1238.50 L549.06,1238.79 L551.38,1239.08 L553.70,1239.37 L556.03,1239.65 L558.35,1239.94 L560.67,1240.23 L562.99,1240.51 L565.31,1240.79 L567.64,1241.07 L569.96,1241.35 L572.28,1241.63 L574.60,1241.91 L576.92,1242.18 L579.25,1242.46 L581.57,1242.73 L583.89,1243.00 L585.58,1243.20" fill="none" stroke="#ffff00" stroke-width="5.0" stroke-linejoin="round"/>
<path d="M131.10,1032.37 L133.42,1035.44 L135.74,1038.41 L138.07,1041.31 L140.39,1044.12 L142.71,1046.86 L145.03,1049.53 L147.35,1052.14 L149.68,1054.68 L152.00,1057.16 L154.32,1059.58 L156.64,1061.94 L158.96,1064.26 L161.29,1066.52 L163.61,1068.73 L165.93,1070.90 L168.25,1073.02 L170.57,1075.10 L172.90,1077.14 L175.22,1079.14 L177.54,1081.11 L179.86,1083.03 L182.18,1084.92 L184.51,1086.78 L186.83,1088.61 L189.15,1090.40 L191.47,1092.16 L193.79,1093.90 L196.12,1095.60 L198.44,1097.28 L200.76,1098.93 L203.08,1100.55 L205.40,1102.15 L207.73,1103.73 L210.05,1105.28 L212.37,1106.81 L214.69,1108.31 L217.01,1109.80 L219.34,1111.26 L221.66,1112.70 L223.98,1114.13 L226.30,1115.53 L228.62,1116.92 L230.95,1118.29 L233.27,1119.64 L235.59,1120.97 L237.91,1122.28 L240.23,1123.58 L242.56,1124.86 L244.88,1126.13 L247.20,1127.38 L249.52,1128.62 L251.84,1129.84 L254.17,1131.05 L256.49,1132.25 L258.81,1133.43 L261.13,1134.59 L263.45,1135.75 L265.78,1136.89 L268.10,1138.02 L270.42,1139.14 L272.74,1140.24 L275.06,1141.33 L277.39,1142.42 L279.71,1143.49 L282.03,1144.55 L284.35,1145.60 L286.67,1146.63 L289.00,1147.66 L291.32,1148.68 L293.64,1149.69 L295.96,1150.69 L298.28,1151.68 L300.61,1152.66 L302.93,1153.63 L305.25,1154.59 L307.57,1155.54 L309.89,1156.49 L312.22,1157.42 L314.54,1158.35 L316.86,1159.27 L319.18,1160.18 L321.50,1161.08 L323.83,1161.98 L326.15,1162.86 L328.47,1163.74 L330.79,1164.62 L333.11,1165.48 L335.44,1166.34 L337.76,1167.19 L340.08,1168.04 L342.40,1168.87 L344.72,1169.70 L347.05,1170.53 L349.37,1171.34 L351.69,1172.16 L354.01,1172.96 L356.33,1173.76 L358.66,1174.55 L360.98,1175.34 L363.30,1176.12 L365.62,1176.89 L367.94,1177.66 L370.27,1178.43 L372.59,1179.18 L374.91,1179.94 L377.23,1180.68 L379.55,1181.43 L381.88,1182.16 L384.20,1182.89 L386.52,1183.62 L388.84,1184.34 L391.16,1185.06 L393.49,1185.77 L395.81,1186.47 L398.13,1187.17 L400.45,1187.87 L402.77,1188.56 L405.10,1189.25 L407.42,1189.93 L409.74,1190.61 L412.06,1191.29 L414.38,1191.96 L416.71,1192.62 L419.03,1193.28 L421.35,1193.94 L423.67,1194.59 L425.99,1195.24 L428.32,1195.89 L430.64,1196.53 L432.96,1197.16 L435.28,1197.80 L437.60,1198.42 L439.93,1199.05 L442.25,1199.67 L444.57,1200.29 L446.89,1200.90 L449.21,1201.51 L451.54,1202.12 L453.86,1202.72 L456.18,1203.32 L458.50,1203.92 L460.82,1204.51 L463.15,1205.10 L465.47,1205.69 L467.79,1206.27 L470.11,1206.85 L472.43,1207.43 L474.76,1208.00 L477.08,1208.57 L479.40,1209.14 L481.72,1209.70 L484.04,1210.27 L486.37,1210.82 L488.69,1211.38 L491.01,1211.93 L493.33,1212.48 L495.65,1213.03 L497.98,1213.57 L500.30,1214.11 L502.62,1214.65 L504.94,1215.18 L507.26,1215.71 L509.59,1216.24 L511.91,1216.77 L514.23,1217.30 L516.55,1217.82 L518.87,1218.34 L521.20,1218.85 L523.52,1219.37 L525.84,1219.88 L528.16,1220.39 L530.48,1220.89 L532.81,1221.40 L535.13,1221.90 L537.45,1222.40 L539.77,1222.89 L542.09,1223.39 L544.42,1223.88 L546.74,1224.37 L549.06,1224.85 L551.38,1225.34 L553.70,1225.82 L556.03,1226.30 L558.35,1226.78 L560.67,1227.26 L562.99,1227.73 L565.31,1228.20 L567.64,1228.67 L569.96,1229.14 L572.28,1229.60 L574.60,1230.07 L576.92,1230.53 L579.25,1230.99 L581.57,1231.45 L583.89,1231.90 L586.21,1232.35 L588.53,1232.81 L590.86,1233.25 L593.18,1233.70 L595.50,1234.15 L597.82,1234.59 L600.14,1235.03 L602.47,1235.47 L604.79,1235.91 L607.11,1236.35 L609.43,1236.78 L611.75,1237.21 L614.08,1237.64 L616.40,1238.07 L618.72,1238.50 L621.04,1238.92 L623.36,1239.35 L625.69,1239.77 L628.01,1240.19 L630.33,1240.61 L632.65,1241.02 L634.97,1241.44 L637.30,1241.85 L639.62,1242.26 L641.94,1242.67 L644.26,1243.08 L644.93,1243.20" fill="none" stroke="#5a0000" stroke-width="5.0" stroke-linejoin="round"/>
<path d="M131.10,922.79 L133.42,927.54 L135.74,932.15 L138.07,936.64 L140.39,941.01 L142.71,945.26 L145.03,949.40 L147.35,953.43 L149.68,957.37 L152.00,961.22 L154.32,964.97 L156.64,968.64 L158.96,972.22 L161.29,975.73 L163.61,979.17 L165.93,982.53 L168.25,985.82 L170.57,989.05 L172.90,992.21 L175.22,995.31 L177.54,998.35 L179.86,1001.34 L182.18,1004.27 L184.51,1007.15 L186.83,1009.98 L189.15,1012.76 L191.47,1015.50 L193.79,1018.18 L196.12,1020.83 L198.44,1023.43 L200.76,1025.99 L203.08,1028.50 L205.40,1030.98 L207.73,1033.43 L210.05,1035.83 L212.37,1038.20 L214.69,1040.54 L217.01,1042.84 L219.34,1045.11 L221.66,1047.35 L223.98,1049.56 L226.30,1051.73 L228.62,1053.88 L230.95,1056.00 L233.27,1058.10 L235.59,1060.16 L237.91,1062.20 L240.23,1064.22 L242.56,1066.20 L244.88,1068.17 L247.20,1070.11 L249.52,1072.03 L251.84,1073.92 L254.17,1075.80 L256.49,1077.65 L258.81,1079.48 L261.13,1081.29 L263.45,1083.08 L265.78,1084.85 L268.10,1086.60 L270.42,1088.33 L272.74,1090.05 L275.06,1091.74 L277.39,1093.42 L279.71,1095.08 L282.03,1096.72 L284.35,1098.35 L286.67,1099.96 L289.00,1101.55 L291.32,1103.13 L293.64,1104.70 L295.96,1106.25 L298.28,1107.78 L300.61,1109.30 L302.93,1110.80 L305.25,1112.29 L307.57,1113.77 L309.89,1115.24 L312.22,1116.69 L314.54,1118.12 L316.86,1119.55 L319.18,1120.96 L321.50,1122.36 L323.83,1123.75 L326.15,1125.13 L328.47,1126.49 L330.79,1127.84 L333.11,1129.19 L335.44,1130.52 L337.76,1131.84 L340.08,1133.14 L342.40,1134.44 L344.72,1135.73 L347.05,1137.01 L349.37,1138.28 L351.69,1139.53 L354.01,1140.78 L356.33,1142.02 L358.66,1143.25 L360.98,1144.47 L363.30,1145.68 L365.62,1146.88 L367.94,1148.07 L370.27,1149.26 L372.59,1150.43 L374.91,1151.60 L377.23,1152.76 L379.55,1153.91 L381.88,1155.05 L384.20,1156.18 L386.52,1157.31 L388.84,1158.43 L391.16,1159.54 L393.49,1160.64 L395.81,1161.73 L398.13,1162.82 L400.45,1163.90 L402.77,1164.97 L405.10,1166.04 L407.42,1167.10 L409.74,1168.15 L412.06,1169.20 L414.38,1170.24 L416.71,1171.27 L419.03,1172.29 L421.35,1173.31 L423.67,1174.32 L425.99,1175.33 L428.32,1176.33 L430.64,1177.32 L432.96,1178.31 L435.28,1179.29 L437.60,1180.27 L439.93,1181.24 L442.25,1182.20 L444.57,1183.16 L446.89,1184.11 L449.21,1185.06 L451.54,1186.00 L453.86,1186.93 L456.18,1187.86 L458.50,1188.79 L460.82,1189.71 L463.15,1190.62 L465.47,1191.53 L467.79,1192.44 L470.11,1193.34 L472.43,1194.23 L474.76,1195.12 L477.08,1196.00 L479.40,1196.88 L481.72,1197.76 L484.04,1198.63 L486.37,1199.49 L488.69,1200.35 L491.01,1201.21 L493.33,1202.06 L495.65,1202.91 L497.98,1203.75 L500.30,1204.59 L502.62,1205.42 L504.94,1206.25 L507.26,1207.08 L509.59,1207.90 L511.91,1208.71 L514.23,1209.53 L516.55,1210.34 L518.87,1211.14 L521.20,1211.94 L523.52,1212.74 L525.84,1213.53 L528.16,1214.32 L530.48,1215.10 L532.81,1215.88 L535.13,1216.66 L537.45,1217.44 L539.77,1218.21 L542.09,1218.97 L544.42,1219.73 L546.74,1220.49 L549.06,1221.25 L551.38,1222.00 L553.70,1222.75 L556.03,1223.49 L558.35,1224.24 L560.67,1224.97 L562.99,1225.71 L565.31,1226.44 L567.64,1227.17 L569.96,1227.89 L572.28,1228.61 L574.60,1229.33 L576.92,1230.05 L579.25,1230.76 L581.57,1231.47 L583.89,1232.17 L586.21,1232.88 L588.53,1233.58 L590.86,1234.27 L593.18,1234.97 L595.50,1235.66 L597.82,1236.34 L600.14,1237.03 L602.47,1237.71 L604.79,1238.39 L607.11,1239.07 L609.43,1239.74 L611.75,1240.41 L614.08,1241.08 L616.40,1241.74 L618.72,1242.40 L621.04,1243.06 L621.52,1243.20" fill="none" stroke="#0000ff" stroke-width="5.0" stroke-linejoin="round"/>
<path d="M131.10,843.97 L133.42,849.09 L135.74,854.06 L138.07,858.89 L140.39,863.59 L142.71,868.17 L145.03,872.63 L147.35,876.98 L149.68,881.22 L152.00,885.36 L154.32,889.40 L156.64,893.35 L158.96,897.21 L161.29,900.99 L163.61,904.69 L165.93,908.31 L168.25,911.85 L170.57,915.33 L172.90,918.73 L175.22,922.08 L177.54,925.35 L179.86,928.57 L182.18,931.73 L184.51,934.83 L186.83,937.88 L189.15,940.87 L191.47,943.81 L193.79,946.71 L196.12,949.55 L198.44,952.36 L200.76,955.11 L203.08,957.82 L205.40,960.49 L207.73,963.13 L210.05,965.72 L212.37,968.27 L214.69,970.78 L217.01,973.26 L219.34,975.71 L221.66,978.12 L223.98,980.50 L226.30,982.84 L228.62,985.16 L230.95,987.44 L233.27,989.69 L235.59,991.92 L237.91,994.11 L240.23,996.28 L242.56,998.43 L244.88,1000.54 L247.20,1002.63 L249.52,1004.70 L251.84,1006.74 L254.17,1008.76 L256.49,1010.75 L258.81,1012.72 L261.13,1014.67 L263.45,1016.60 L265.78,1018.51 L268.10,1020.39 L270.42,1022.26 L272.74,1024.10 L275.06,1025.93 L277.39,1027.74 L279.71,1029.52 L282.03,1031.29 L284.35,1033.05 L286.67,1034.78 L289.00,1036.50 L291.32,1038.20 L293.64,1039.88 L295.96,1041.55 L298.28,1043.20 L300.61,1044.84 L302.93,1046.46 L305.25,1048.06 L307.57,1049.65 L309.89,1051.23 L312.22,1052.79 L314.54,1054.34 L316.86,1055.88 L319.18,1057.40 L321.50,1058.91 L323.83,1060.40 L326.15,1061.88 L328.47,1063.35 L330.79,1064.81 L333.11,1066.25 L335.44,1067.69 L337.76,1069.11 L340.08,1070.52 L342.40,1071.92 L344.72,1073.30 L347.05,1074.68 L349.37,1076.05 L351.69,1077.40 L354.01,1078.74 L356.33,1080.08 L358.66,1081.40 L360.98,1082.72 L363.30,1084.02 L365.62,1085.31 L367.94,1086.60 L370.27,1087.87 L372.59,1089.14 L374.91,1090.39 L377.23,1091.64 L379.55,1092.88 L381.88,1094.11 L384.20,1095.33 L386.52,1096.54 L388.84,1097.75 L391.16,1098.94 L393.49,1100.13 L395.81,1101.31 L398.13,1102.48 L400.45,1103.64 L402.77,1104.80 L405.10,1105.95 L407.42,1107.09 L409.74,1108.22 L412.06,1109.35 L414.38,1110.46 L416.71,1111.58 L419.03,1112.68 L421.35,1113.78 L423.67,1114.87 L425.99,1115.95 L428.32,1117.03 L430.64,1118.10 L432.96,1119.16 L435.28,1120.22 L437.60,1121.27 L439.93,1122.31 L442.25,1123.35 L444.57,1124.38 L446.89,1125.41 L449.21,1126.43 L451.54,1127.44 L453.86,1128.45 L456.18,1129.45 L458.50,1130.45 L460.82,1131.44 L463.15,1132.42 L465.47,1133.40 L467.79,1134.37 L470.11,1135.34 L472.43,1136.31 L474.76,1137.26 L477.08,1138.22 L479.40,1139.16 L481.72,1140.10 L484.04,1141.04 L486.37,1141.97 L488.69,1142.90 L491.01,1143.82 L493.33,1144.74 L495.65,1145.65 L497.98,1146.56 L500.30,1147.46 L502.62,1148.36 L504.94,1149.25 L507.26,1150.14 L509.59,1151.03 L511.91,1151.90 L514.23,1152.78 L516.55,1153.65 L518.87,1154.52 L521.20,1155.38 L523.52,1156.24 L525.84,1157.09 L528.16,1157.94 L530.48,1158.79 L532.81,1159.63 L535.13,1160.46 L537.45,1161.30 L539.77,1162.13 L542.09,1162.95 L544.42,1163.77 L546.74,1164.59 L549.06,1165.40 L551.38,1166.21 L553.70,1167.02 L556.03,1167.82 L558.35,1168.62 L560.67,1169.42 L562.99,1170.21 L565.31,1171.00 L567.64,1171.78 L569.96,1172.56 L572.28,1173.34 L574.60,1174.11 L576.92,1174.88 L579.25,1175.65 L581.57,1176.41 L583.89,1177.17 L586.21,1177.93 L588.53,1178.68 L590.86,1179.43 L593.18,1180.18 L595.50,1180.92 L597.82,1181.66 L600.14,1182.40 L602.47,1183.13 L604.79,1183.87 L607.11,1184.59 L609.43,1185.32 L611.75,1186.04 L614.08,1186.76 L616.40,1187.48 L618.72,1188.19 L621.04,1188.90 L623.36,1189.61 L625.69,1190.31 L628.01,1191.01 L630.33,1191.71 L632.65,1192.41 L634.97,1193.10 L637.30,1193.79 L639.62,1194.48 L641.94,1195.16 L644.26,1195.84 L646.58,1196.52 L648.91,1197.20 L651.23,1197.88 L653.55,1198.55 L655.87,1199.22 L658.19,1199.88 L660.52,1200.55 L662.84,1201.21 L665.16,1201.87 L667.48,1202.52 L669.80,1203.18 L672.13,1203.83 L674.45,1204.48 L676.77,1205.12 L679.09,1205.77 L681.41,1206.41 L683.74,1207.05 L686.06,1207.69 L688.38,1208.32 L690.70,1208.95 L693.02,1209.58 L695.35,1210.21 L697.67,1210.84 L699.99,1211.46 L702.31,1212.08 L704.63,1212.70 L706.96,1213.32 L709.28,1213.93 L711.60,1214.54 L713.92,1215.15 L716.24,1215.76 L718.57,1216.37 L720.89,1216.97 L723.21,1217.57 L725.53,1218.17 L727.85,1218.77 L730.18,1219.36 L732.50,1219.96 L734.82,1220.55 L737.14,1221.14 L739.46,1221.73 L741.79,1222.31 L744.11,1222.89 L746.43,1223.48 L748.75,1224.05 L751.07,1224.63 L753.40,1225.21 L755.72,1225.78 L758.04,1226.35 L760.36,1226.92 L762.68,1227.49 L765.01,1228.06 L767.33,1228.62 L769.65,1229.18 L771.97,1229.75 L774.29,1230.30 L776.62,1230.86 L778.94,1231.42 L781.26,1231.97 L783.58,1232.52 L785.90,1233.07 L788.23,1233.62 L790.55,1234.17 L792.87,1234.71 L795.19,1235.25 L797.51,1235.80 L799.84,1236.34 L802.16,1236.87 L804.48,1237.41 L806.80,1237.94 L809.12,1238.48 L811.45,1239.01 L813.77,1239.54 L816.09,1240.07 L818.41,1240.59 L820.73,1241.12 L823.06,1241.64 L825.38,1242.16 L827.70,1242.68" fill="none" stroke="#ff0000" stroke-width="5.0" stroke-linejoin="round"/>
<line x1="228.5" y1="674.6" x2="293.1" y2="674.6" stroke="#ffff00" stroke-width="4.6"/>
<text x="307" y="683.6">With <tspan class="i" dx="2.0">S.bicolor</tspan></text>
<text class="e" x="561" y="672.4" style="fill:#ffff00;stroke:#ffff00">y = -5.763Ln(X) + 19.097</text>
<text class="e" x="859.5" y="672.4" style="fill:#ffff00;stroke:#ffff00">R<tspan dy="-8.4" style="font-size:15.5px;letter-spacing:0">2</tspan><tspan dy="8.4" dx="1.0"> = 0.9040</tspan></text>
<line x1="228.5" y1="711.1" x2="293.1" y2="711.1" stroke="#5a0000" stroke-width="4.6"/>
<text x="307" y="720.8">With <tspan class="i" dx="2.0">Z.mays</tspan></text>
<text class="e" x="561" y="712.6" style="fill:#800000;stroke:#800000">y = -9.635Ln(X) + 32.947</text>
<text class="e" x="859.5" y="712.6" style="fill:#800000;stroke:#800000">R<tspan dy="-8.4" style="font-size:15.5px;letter-spacing:0">2</tspan><tspan dy="8.4" dx="1.0"> = 0.8633</tspan></text>
<line x1="228.5" y1="747.6" x2="293.1" y2="747.6" stroke="#0000ff" stroke-width="4.6"/>
<text x="307" y="756.8">With <tspan class="i" dx="2.0">L.esculentum</tspan></text>
<text class="e" x="561" y="751.8" style="fill:#0000ff;stroke:#0000ff">y = -14.94Ln(X) + 50.484</text>
<text class="e" x="859.5" y="751.8" style="fill:#0000ff;stroke:#0000ff">R<tspan dy="-8.4" style="font-size:15.5px;letter-spacing:0">2</tspan><tspan dy="8.4" dx="1.0"> = 0.8477</tspan></text>
<line x1="228.5" y1="784.2" x2="293.1" y2="784.2" stroke="#ff0000" stroke-width="4.6"/>
<text x="307" y="793.5">CK</text>
<text class="e" x="561" y="790.9" style="fill:#ff0000;stroke:#ff0000">y = -16.09Ln(X) + 59.402</text>
<text class="e" x="859.5" y="790.9" style="fill:#ff0000;stroke:#ff0000">R<tspan dy="-8.4" style="font-size:15.5px;letter-spacing:0">2</tspan><tspan dy="8.4" dx="1.0"> = 0.8222</tspan></text>
</svg></body></html>
